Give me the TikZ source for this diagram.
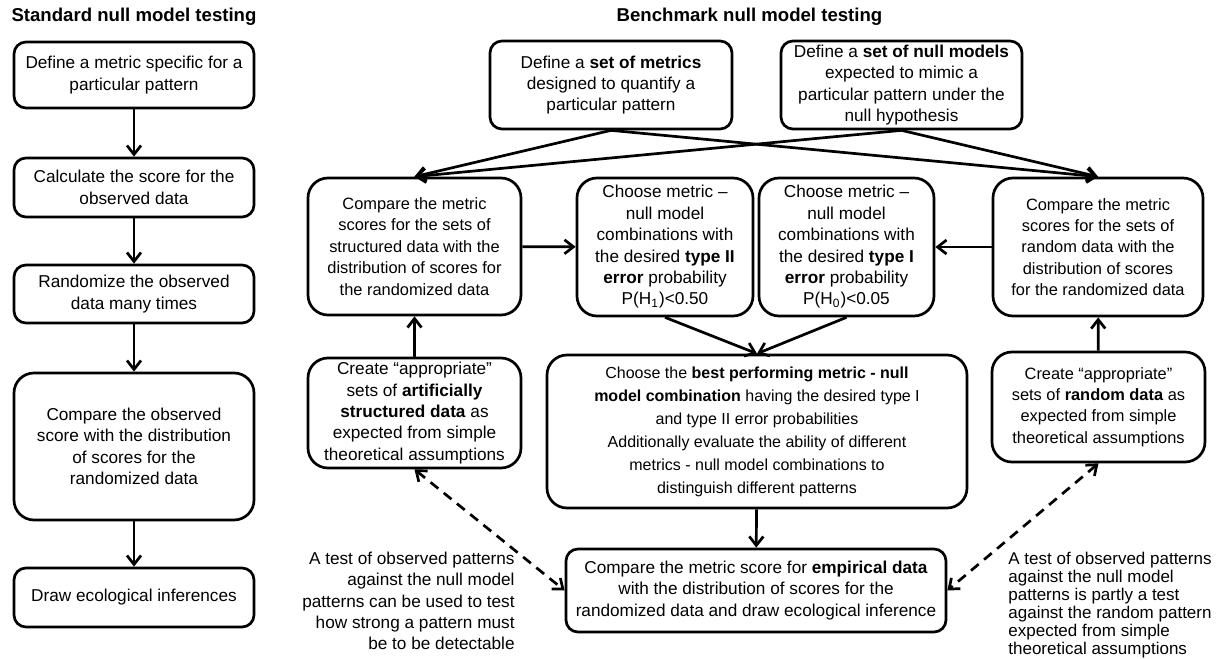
\documentclass[tikz,border=0pt]{standalone}
\usepackage{fontspec}
\setmainfont{Liberation Sans}
\usetikzlibrary{arrows.meta}

\begin{document}
\begin{tikzpicture}
[
	x=0.5pt, y=-0.5pt,
	font=\fontsize{8.6}{10.7}\selectfont,
	stepbox/.style={draw,line width=1.35pt,rounded corners=6pt,align=center,inner sep=0pt},
	bigbox/.style={stepbox,rounded corners=10pt},
	small/.style={font=\fontsize{8.2}{10.7}\selectfont},
	flow/.style={line width=1.35pt,-{Straight Barb[length=4.5pt,width=7pt]}},
	link/.style={line width=1.35pt,dash pattern=on 5pt off 3.5pt,{Straight Barb[length=4.5pt,width=7pt]}-{Straight Barb[length=4.5pt,width=7pt]}},
	heading/.style={font=\fontsize{9.3}{11}\selectfont\bfseries}
]

	\useasboundingbox (0,0) rectangle (1223,659);

	% titles
	\node[heading] at (134,17) (stdtitle) {Standard null model testing};
	\node[heading] at (749.5,17) (benchtitle) {Benchmark null model testing};

	% standard column
	\node[stepbox,minimum width=120pt,minimum height=33pt] at (134,75) (stdmetric) {Define a metric specific for a\\particular pattern};
	\node[stepbox,minimum width=120pt,minimum height=29.5pt] at (134,187.5) (stdscore) {Calculate the score for the\\observed data};
	\node[stepbox,minimum width=120pt,minimum height=29pt] at (134,294) (stdrandom) {Randomize the observed\\data many times};
	\node[bigbox,minimum width=120pt,minimum height=73.5pt] at (134,446.5) (stdcompare) {Compare the observed\\score with the distribution\\of scores for the\\randomized data};
	\node[stepbox,minimum width=120pt,minimum height=29.5pt] at (134,597.5) (stdinfer) {Draw ecological inferences};

	\draw[flow] (stdmetric) -- (stdscore);
	\draw[flow] (stdscore) -- (stdrandom);
	\draw[flow] (stdrandom) -- (stdcompare);
	\draw[flow] (stdcompare) -- (stdinfer);

	% benchmark: definitions
	\node[stepbox,minimum width=121pt,minimum height=44pt] at (611,85) (setmetrics) {Define a \textbf{set of metrics}\\designed to quantify a\\particular pattern};
	\node[stepbox,minimum width=120.5pt,minimum height=44pt] at (901.5,85) (setnull) {Define a \textbf{set of null models}\\expected to mimic a\\particular pattern under the\\null hypothesis};

	% benchmark: comparisons and choices
	\node[bigbox,small,minimum width=106.5pt,minimum height=68.5pt] at (414.5,246.5) (cmpstruct) {Compare the metric\\scores for the sets of\\structured data with the\\distribution of scores for\\the randomized data};
	\node[bigbox,minimum width=88pt,minimum height=69pt] at (665,247) (typetwo) {Choose metric --\\null model\\combinations with\\the desired \textbf{type II}\\\textbf{error} probability\\P(H\textsubscript{1})<0.50};
	\node[bigbox,minimum width=87.5pt,minimum height=69pt] at (846.5,247) (typeone) {Choose metric --\\null model\\combinations with\\the desired \textbf{type I}\\\textbf{error} probability\\P(H\textsubscript{0})<0.05};
	\node[bigbox,small,minimum width=105pt,minimum height=69pt] at (1098,247) (cmprandom) {Compare the metric\\scores for the sets of\\random data with the\\distribution of scores\\for the randomized data};

	% benchmark: data sets and best combination
	\node[bigbox,minimum width=106.5pt,minimum height=55pt] at (414.5,413) (artstruct) {Create “appropriate”\\sets of \textbf{artificially}\\\textbf{structured data} as\\expected from simple\\theoretical assumptions};
	\node[bigbox,minimum width=210pt,minimum height=76.5pt,font=\fontsize{8}{11.5}\selectfont] at (757,431.5) (best) {Choose the \textbf{best performing metric - null}\\\textbf{model combination} having the desired type I\\and type II error probabilities\\Additionally evaluate the ability of different\\metrics - null model combinations to\\distinguish different patterns};
	\node[bigbox,small,minimum width=106.5pt,minimum height=55pt] at (1098.5,407) (randdata) {Create “appropriate”\\sets of \textbf{random data} as\\expected from simple\\theoretical assumptions};
	\node[stepbox,minimum width=190pt,minimum height=41.5pt] at (756,590.5) (empirical) {Compare the metric score for \textbf{empirical data}\\with the distribution of scores for the\\randomized data and draw ecological inference};

	% notes
	\node[anchor=east,align=right,inner sep=0pt] at (515,601) (leftnote) {A test of observed patterns\\against the null model\\patterns can be used to test\\how strong a pattern must\\be to be detectable};
	\node[anchor=west,align=left,inner sep=0pt,font=\fontsize{8.5}{9}\selectfont] at (1008,605) (rightnote) {A test of observed patterns\\against the null model\\patterns is partly a test\\against the random pattern\\expected from simple\\theoretical assumptions};

	% arrows
	\draw[flow] (setmetrics.south) -- (cmpstruct.north);
	\draw[flow] (setmetrics.south) -- (cmprandom.north);
	\draw[flow] (setnull.south) -- (cmpstruct.north);
	\draw[flow] (setnull.south) -- (cmprandom.north);

	\draw[flow] (cmpstruct) -- (typetwo);
	\draw[flow] (cmprandom) -- (typeone);
	\draw[flow] (artstruct) -- (cmpstruct);
	\draw[flow] (randdata) -- (cmprandom);

	\draw[flow] (typetwo.south) -- (best.north);
	\draw[flow] (typeone.south) -- (best.north);
	\draw[flow] (best) -- (empirical);

	\draw[link] (artstruct.south) -- (empirical.west);
	\draw[link] (randdata.south) -- (empirical.east);

\end{tikzpicture}
\end{document}
